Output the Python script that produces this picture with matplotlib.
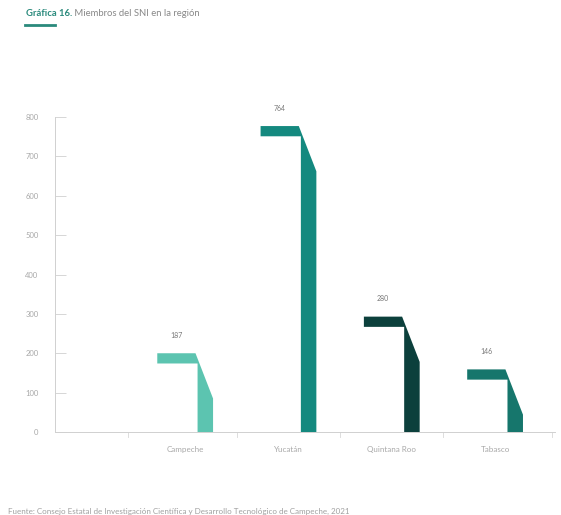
import matplotlib
matplotlib.use("Agg")
import matplotlib.pyplot as plt
from matplotlib.patches import Polygon

categories = ["Campeche", "Yucatán", "Quintana Roo", "Tabasco"]
values = [187, 764, 280, 146]
value_labels = ["187", "764", "280", "146"]
colors = ["#5cc4b0", "#14897f", "#0c403c", "#16766c"]
yticks = [0, 100, 200, 300, 400, 500, 600, 700, 800]

title_bold = "Gráfica 16."
title_rest = " Miembros del SNI en la región"
source = ("Fuente: Consejo Estatal de Investigación Científica y Desarrollo Tecnológico "
          "de Campeche, 2021")

plt.rcParams['font.family'] = ['Lato', 'DejaVu Sans']
fig = plt.figure(figsize=(5.61, 5.15), dpi=100)
ax = fig.add_axes([55/561, (515-432)/515, (555-55)/561, (432-117)/515])

half = 13       # half thickness of top band (data units)
drop = 115      # diagonal drop
for i, (v, col) in enumerate(zip(values, colors)):
    c = i
    pts = [(c-0.27, v+half), (c+0.10, v+half), (c+0.27, v+half-drop),
           (c+0.27, 0), (c+0.12, 0), (c+0.12, v-half), (c-0.27, v-half)]
    ax.add_patch(Polygon(pts, closed=True, facecolor=col, edgecolor='none'))
    ax.annotate(value_labels[i], xy=(c-0.085, v+half), xytext=(0, 13),
                textcoords='offset points', ha='center', va='center',
                fontsize=5, color='#777777')

ax.set_xlim(-1.26, 3.58)
ax.set_ylim(0, 800)
ax.set_yticks(yticks)
ax.set_yticklabels([str(t) for t in yticks], fontsize=5.5, color='#a8a8a8')
ax.tick_params(axis='y', direction='in', length=8, width=0.6, color='#d0d0d0', pad=12)
ax.set_xticks(range(len(categories)))
ax.set_xticklabels(categories, fontsize=5.8, color='#a8a8a8')
ax.tick_params(axis='x', length=0, pad=10)
for b in [-0.55, 0.5, 1.5, 2.5, 3.55]:
    ax.plot([b, b], [0, -12], color='#d8d8d8', lw=0.6, clip_on=False)
for s in ['top', 'right']:
    ax.spines[s].set_visible(False)
for s in ['left', 'bottom']:
    ax.spines[s].set_color('#d0d0d0')
    ax.spines[s].set_linewidth(0.7)

t = fig.text(26/561, 1-13/515, title_bold, fontsize=6.8, color='#2a8a7c',
             fontweight='bold', va='center')
fig.canvas.draw()
bb = t.get_window_extent()
fig.text(bb.x1/561, 1-13/515, title_rest, fontsize=6.8, color='#888888', va='center')
fig.add_artist(plt.Line2D([25/561, 55/561], [1-25/515, 1-25/515], color='#2a8a7c', lw=2))

fig.text(8/561, 1-511/515, source, fontsize=5.8, color='#a0a0a0', va='center')

fig.savefig("out.png", dpi=100, facecolor='white')
